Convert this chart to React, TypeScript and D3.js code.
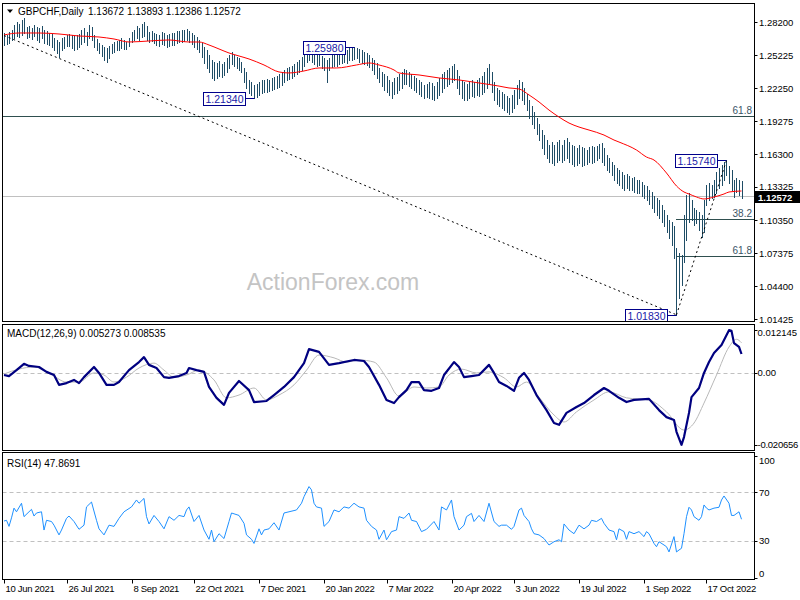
import React from 'react';
import * as d3 from 'd3';

// ---------- DATA ----------
const highs = [
  1.2721,1.2703,1.2730,1.2748, 1.2793,1.2820,1.2802,1.2838, 1.2856, 1.2775,1.2784,1.2766,
  1.2793,1.2775,1.2766,1.2784, 1.2748,1.2739,1.2721, 1.2712,1.2676,1.2658,1.2640, 1.2676,1.2685,1.2703,
  1.2712,1.2703,1.2694,1.2703,1.2712, 1.2748,1.2766,1.2730, 1.2793,1.2775, 1.2703,1.2667,1.2631,
  1.2613,1.2595,1.2586,1.2604, 1.2622,1.2640,1.2649,1.2658, 1.2676,1.2658,1.2640,1.2676,
  1.2730,1.2748,1.2784,1.2766, 1.2802,1.2820, 1.2784,1.2730,1.2739, 1.2721,1.2712,1.2703,1.2730,
  1.2721,1.2703,1.2712,1.2721, 1.2721,1.2739,1.2739,1.2748, 1.2748,1.2757,1.2739, 1.2721,1.2703,1.2685,
  1.2658,1.2631,1.2595, 1.2568,1.2523,1.2478,1.2460, 1.2451,1.2469,1.2442,1.2460, 1.2496,1.2523,
  1.2550,1.2523,1.2505, 1.2496,1.2460, 1.2406,1.2370, 1.2298,1.2280,1.2253,1.2262, 1.2280,1.2298,1.2298,
  1.2307,1.2298,1.2316,1.2325, 1.2334,1.2352,1.2370,1.2388, 1.2406,1.2415,1.2424,1.2442, 1.2460,1.2478,1.2505,
  1.2550,1.2586,1.2595,1.2577, 1.2550,1.2523,1.2541, 1.2514,1.2496,1.2478, 1.2496,1.2532,1.2550,1.2541,
  1.2568,1.2559,1.2577,1.2568, 1.2586,1.2586,1.2598,1.2586, 1.2577,1.2568,1.2550,1.2541, 1.2523,1.2496,1.2478,
  1.2451,1.2406,1.2370,1.2352, 1.2334,1.2298,1.2280,1.2316, 1.2325,1.2352,1.2370,1.2397, 1.2388,1.2370,1.2352,1.2334,
  1.2316,1.2298,1.2280,1.2253, 1.2262,1.2280,1.2271,1.2244, 1.2280,1.2316,1.2352,1.2370, 1.2388,1.2406,1.2424,1.2442,
  1.2388,1.2334,1.2298,1.2280, 1.2262,1.2280,1.2298,1.2280, 1.2298,1.2316,1.2334,1.2370, 1.2406,1.2442,
  1.2370,1.2280,1.2226,1.2208, 1.2190,1.2172,1.2154,1.2136, 1.2163,1.2208,1.2253, 1.2298,1.2280,
  1.2226,1.2172,1.2118,1.2064, 1.2010,1.1956,1.1902,1.1848, 1.1803,1.1758,1.1713,1.1740, 1.1713,1.1740,1.1758,1.1713,
  1.1758,1.1776,1.1740,1.1713, 1.1704,1.1686,1.1713,1.1695, 1.1686,1.1668,1.1695,1.1704, 1.1695,1.1704,1.1722,1.1731,
  1.1686,1.1623,1.1596, 1.1560,1.1533,1.1506,1.1488, 1.1470,1.1443,1.1452,1.1434, 1.1416,1.1425,1.1398,1.1398,
  1.1380,1.1353,1.1344,1.1308, 1.1290,1.1254,1.1236,1.1218, 1.1173,1.1128,1.1083,1.1038, 1.1020,1.0984,
  1.0786,1.0741,1.0723, 1.1083,1.1263,1.1281,1.1218,1.1146,1.1128,1.1110,1.1083,1.1218,
  1.1353,1.1371,1.1353,1.1398,1.1470,1.1506,1.1533,1.1560,1.1574, 1.1524,1.1488,1.1398,1.1416,1.1398,1.13893,
];
const lows = [
  1.2613,1.2622,1.2631,1.2658, 1.2676,1.2694,1.2685,1.2703, 1.2721, 1.2676,1.2685,1.2667,
  1.2694,1.2658,1.2640,1.2676, 1.2631,1.2622,1.2613, 1.2595,1.2568,1.2541,1.2505, 1.2568,1.2586,1.2604,
  1.2604,1.2586,1.2568,1.2577,1.2595, 1.2622,1.2640,1.2613, 1.2676,1.2658, 1.2595,1.2568,1.2541,
  1.2514,1.2478,1.2460,1.2496, 1.2541,1.2550,1.2568,1.2568, 1.2586,1.2577,1.2577,1.2604,
  1.2640,1.2658,1.2676,1.2658, 1.2685,1.2694, 1.2658,1.2640,1.2649, 1.2631,1.2613,1.2604,1.2622,
  1.2613,1.2595,1.2604,1.2613, 1.2613,1.2631,1.2640,1.2640, 1.2649,1.2658,1.2640, 1.2622,1.2595,1.2577,
  1.2550,1.2505,1.2451, 1.2406,1.2370,1.2316,1.2298, 1.2316,1.2334,1.2325,1.2343, 1.2370,1.2406,
  1.2442,1.2424,1.2406, 1.2388,1.2370, 1.2280,1.2226, 1.2181,1.2163,1.2134,1.2145, 1.2163,1.2181,1.2190,
  1.2190,1.2199,1.2208,1.2217, 1.2226,1.2235,1.2253,1.2280, 1.2298,1.2307,1.2316,1.2334, 1.2352,1.2370,1.2388,
  1.2424,1.2460,1.2478,1.2460, 1.2442,1.2424,1.2433, 1.2406,1.2388,1.2280, 1.2388,1.2415,1.2424,1.2424,
  1.2442,1.2451,1.2460,1.2451, 1.2478,1.2478,1.2487,1.2496, 1.2460,1.2451,1.2442,1.2433, 1.2415,1.2388,1.2352,
  1.2316,1.2280,1.2244,1.2208, 1.2190,1.2163,1.2136,1.2172, 1.2181,1.2208,1.2226,1.2262, 1.2262,1.2244,1.2226,1.2208,
  1.2190,1.2172,1.2154,1.2136, 1.2145,1.2136,1.2127,1.2118, 1.2136,1.2163,1.2190,1.2226, 1.2244,1.2262,1.2280,1.2298,
  1.2226,1.2172,1.2136,1.2118, 1.2118,1.2136,1.2154,1.2145, 1.2163,1.2154,1.2172,1.2190, 1.2226,1.2262,
  1.2190,1.2118,1.2082,1.2064, 1.2046,1.2028,1.2010,1.1992, 1.2010,1.2046,1.2082, 1.2136,1.2118,
  1.2082,1.2028,1.1956,1.1902, 1.1866,1.1812,1.1758,1.1686, 1.1632,1.1596,1.1560,1.1551, 1.1533,1.1560,1.1578,1.1560,
  1.1578,1.1596,1.1560,1.1542, 1.1524,1.1533,1.1551,1.1524, 1.1533,1.1542,1.1560,1.1551, 1.1560,1.1578,1.1596,1.1560,
  1.1533,1.1488,1.1470, 1.1443,1.1398,1.1371,1.1353, 1.1326,1.1308,1.1326,1.1308, 1.1308,1.1290,1.1281,1.1281,
  1.1254,1.1236,1.1218,1.1182, 1.1146,1.1110,1.1083,1.1056, 1.1020,1.0984,1.0930,1.0876, 1.0813,1.0696,
  1.0183,1.0336,1.0453, 1.0660,1.0858,1.1020,1.1038,1.0993,1.1011,1.0948,1.0885,1.0930,
  1.1173,1.1218,1.1236,1.1245,1.1281,1.1326,1.1353,1.1398,1.1443, 1.1371,1.1308,1.1245,1.1290,1.1263,1.12386,
];

const maIdx = [0,6,14,22,30,38,44,50,58,66,74,78,82,86,90,94,98,104,110,114,120,126,133,141,146,150,156,158,166,174,182,190,198,202,206,210,214,218,222,226,230,234,240,244,246,253,257,260,265,269,272,274,277,280,284,288,290,295];
const maVal = [1.2703,1.2721,1.2721,1.2712,1.2694,1.2685,1.2667,1.2640,1.2649,1.2658,1.2640,1.2640,1.2613,1.2577,1.2541,1.2514,1.2487,1.2433,1.2370,1.2361,1.2379,1.2406,1.2406,1.2433,1.2451,1.2433,1.2388,1.2361,1.2343,1.2316,1.2298,1.2271,1.2243,1.2226,1.2217,1.2163,1.2100,1.2027,1.1964,1.1910,1.1874,1.1847,1.1802,1.1757,1.1739,1.1667,1.1604,1.1577,1.1460,1.1343,1.1289,1.1271,1.1244,1.1226,1.1244,1.1271,1.1289,1.1298];

const macdIdx = [0,2,5,8,10,14,17,20,22,25,28,30,32,36,38,41,44,46,50,54,56,58,61,64,66,70,73,74,77,80,82,85,88,90,94,98,100,105,108,112,116,120,122,126,130,134,140,144,146,150,153,156,158,161,163,166,168,171,174,176,180,182,184,187,190,194,196,198,201,204,206,208,210,213,217,220,222,225,229,232,236,240,242,246,249,252,258,262,265,268,269,271,272,274,275,278,280,282,284,287,290,291,292,294,295];
const macdVal = [-0.0007,-0.0010,0.0007,0.0025,0.0019,0.0016,0.0002,-0.0007,-0.0035,-0.0030,-0.0021,-0.0030,-0.0013,0.0016,-0.0001,-0.0035,-0.0035,-0.0027,0.0007,0.0030,0.0044,0.0022,0.0013,-0.0013,-0.0015,-0.0010,-0.0001,0.0013,0.0007,0.0002,-0.0041,-0.0072,-0.0092,-0.0058,-0.0024,-0.0050,-0.0084,-0.0081,-0.0064,-0.0041,-0.0013,0.0027,0.0067,0.0059,0.0022,0.0027,0.0036,0.0033,0.0016,-0.0035,-0.0078,-0.0087,-0.0070,-0.0050,-0.0027,-0.0027,-0.0050,-0.0052,-0.0044,-0.0007,0.0030,0.0016,-0.0013,-0.0010,-0.0007,0.0022,-0.0001,-0.0027,-0.0038,-0.0052,-0.0015,-0.0001,-0.0021,-0.0064,-0.0107,-0.0144,-0.0149,-0.0115,-0.0098,-0.0087,-0.0064,-0.0044,-0.0052,-0.0072,-0.0084,-0.0078,-0.0075,-0.0107,-0.0127,-0.0135,-0.0169,-0.0206,-0.0184,-0.0115,-0.0070,-0.0044,-0.0001,0.0030,0.0056,0.0079,0.0121,0.0119,0.0084,0.0073,0.0053];

const sigIdx = [0,6,12,18,25,30,36,40,44,49,54,60,64,68,73,78,84,89,94,100,105,110,116,121,126,132,137,142,148,153,158,164,169,174,178,183,189,194,200,205,209,214,220,224,229,236,242,249,258,265,272,276,280,285,290,293,295];
const sigVal = [-0.0004,0.0010,0.0016,-0.0001,-0.0027,-0.0027,-0.0001,-0.0007,-0.0027,-0.0013,0.0013,0.0027,0.0007,-0.0013,-0.0007,0.0007,-0.0021,-0.0072,-0.0064,-0.0044,-0.0078,-0.0064,-0.0035,0.0007,0.0050,0.0042,0.0030,0.0036,0.0030,-0.0015,-0.0067,-0.0041,-0.0044,-0.0041,-0.0007,0.0010,-0.0001,0.0002,-0.0015,-0.0041,-0.0027,-0.0070,-0.0121,-0.0141,-0.0112,-0.0078,-0.0055,-0.0072,-0.0078,-0.0112,-0.0164,-0.0144,-0.0087,-0.0007,0.0073,0.0095,0.0085];

const rsiIdx = [0,1,2,3,4,5,7,8,10,11,12,13,15,16,17,19,20,22,23,25,26,28,30,32,33,35,37,38,40,42,44,46,48,51,53,54,56,57,58,60,62,64,66,68,70,72,73,74,76,78,80,82,83,84,86,88,90,91,94,96,97,99,100,102,103,104,106,108,110,112,114,117,119,120,122,123,124,125,127,128,130,132,134,136,138,140,142,144,145,147,149,150,152,153,155,157,158,160,162,163,165,167,169,172,174,175,177,179,180,182,184,185,187,188,190,192,194,196,198,199,201,203,204,206,207,208,210,211,212,214,216,218,220,222,223,224,226,228,230,232,234,235,237,239,240,242,244,245,246,248,249,250,252,254,256,257,258,260,261,262,264,265,266,268,269,270,271,272,273,274,275,276,278,279,280,281,282,284,286,287,288,290,291,292,294,295];
const rsiVal = [46.4,47,42,49,57,54,61,50,54,56,50.5,53,54,39,47,46,43,35,39,48.6,50.5,46,39.6,43,58,62,47,40,35,43,42,48.6,54,58,63.7,61,65,50,44,51,46,40,50,47,51,50,55.5,58,46,51,39,31.4,39,29.4,36,32,46,53,51,44.5,35,31.4,28,40,35,39,40,45,39,53,54,55.5,61,66.4,74.7,72,61,58,57,42,46,55.5,54,58,57,61,58,57,47,42,39,31.4,39,31,37.7,39,50,48.6,53,47,46,37.7,39.6,46,39,58,55.5,63.7,50,39,43,50,52.7,46,51,46,61,46,42,43,43,39.6,42,55.5,57,51,46,40,36,35,32,26.7,29.4,31,29.4,44,39,36,43,40,43,47,46,48.6,44.5,39,37.7,31,40,37.7,31.4,37.7,36,37.7,33.6,37.7,36,28,25.3,29.4,26.7,25.3,21,33.6,21,22.6,24,36,50,57.7,55.5,50,47,50,59.6,57,55.5,57,57.7,63.7,67,61,51,51,54,47.87];

const priceTicks = [1.282, 1.25225, 1.2225, 1.19275, 1.163, 1.13325, 1.1035, 1.07375, 1.044, 1.01425];
const dateIdx = [0, 25, 51, 76, 102, 128, 153, 179, 204, 230, 256, 281];
const dateLabels = ['10 Jun 2021','26 Jul 2021','8 Sep 2021','22 Oct 2021','7 Dec 2021','20 Jan 2022','7 Mar 2022','20 Apr 2022','3 Jun 2022','19 Jul 2022','1 Sep 2022','17 Oct 2022'];

const swingIdx = [100, 140, 269, 289];
const swingVal = [1.2134, 1.2598, 1.0183, 1.1574];

const trend1Idx = [0, 269];
const trend1Val = [1.2698, 1.0183];
const trend2Idx = [269, 289];
const trend2Val = [1.0183, 1.1574];

const fibWideVal = 1.1974;
const fibNames = ['38.2', '61.8'];
const fibVals = [1.1043, 1.0714];
const fibStartIdx = 269;

const lastClose = 1.12572;
const header = ['1.13672', '1.13893', '1.12386', '1.12572'];
const macdHeader = 'MACD(12,26,9) 0.005273 0.008535';
const rsiHeader = 'RSI(14) 47.8691';
const macdAxis = [0.012145, 0, -0.020656];
const macdAxisText = ['0.012145', '0.00', '-0.020656'];
const rsiTicks = [100, 70, 30, 0];

// ---------- LAYOUT ----------
const L = 2.5, R = 754.5;
const FONT = '"Liberation Sans", Arial, sans-serif';
const BAR = '#1f4d66';
const AX = 9.5;

export default function App() {
  const N = highs.length;
  const x = d3.scaleLinear().domain([0, N - 1]).range([4, 741.5]);
  const yP = d3.scaleLinear().domain([1.01425, 1.282]).range([319.3, 22]);
  const yM = d3.scaleLinear().domain([-0.020656, 0.012145]).range([445, 330]);
  const yR = d3.scaleLinear().domain([0, 100]).range([577.5, 455.8]);
  const fmt = d3.format('.5f');

  let barPath = '';
  for (let i = 0; i < N; i++) {
    const bx = Math.round(x(i)) + 0.5;
    barPath += `M${bx},${Math.round(yP(highs[i]))}V${Math.round(yP(lows[i])) + 1}`;
  }

  const pairs = (a: number[], b: number[]) => a.map((v, k) => [v, b[k]] as [number, number]);
  const maLine = d3.line<[number, number]>().x(d => x(d[0])).y(d => yP(d[1])).curve(d3.curveMonotoneX)(pairs(maIdx, maVal)) || '';
  const macdLine = d3.line<[number, number]>().x(d => x(d[0])).y(d => yM(d[1]))(pairs(macdIdx, macdVal)) || '';
  const sigLine = d3.line<[number, number]>().x(d => x(d[0])).y(d => yM(d[1])).curve(d3.curveMonotoneX)(pairs(sigIdx, sigVal)) || '';
  const rsiLine = d3.line<[number, number]>().x(d => x(d[0])).y(d => yR(d[1]))(pairs(rsiIdx, rsiVal)) || '';
  const tl = d3.line<[number, number]>().x(d => x(d[0])).y(d => yP(d[1]));

  const labelBoxes = swingIdx.map((si, k) => {
    const bx = Math.round(x(si)) + 0.5;
    const yy = yP(swingVal[k]);
    const right = bx - 9;
    return (
      <g key={k}>
        <line x1={right} x2={bx} y1={Math.round(yy) + 0.5} y2={Math.round(yy) + 0.5} stroke="#00008b" strokeWidth={1} />
        <rect x={right - 42} y={Math.round(yy) - 6 + 0.5} width={42} height={13} fill="#fff" stroke="#00008b" strokeWidth={1} />
        <text x={right - 21} y={Math.round(yy) + 4.5} textAnchor="middle" fontSize={10.5} fill="#1a1aa8" fontFamily={FONT}>{fmt(swingVal[k])}</text>
      </g>
    );
  });

  const yLast = yP(lastClose);

  return (
    <svg width={800} height={600} style={{ position: 'fixed', left: 0, top: 0, background: '#fff' }} fontFamily={FONT}>
      <rect x={0} y={0} width={800} height={600} fill="#fff" />
      <defs>
        <clipPath id="cMain"><rect x={L} y={3.5} width={R - L} height={318} /></clipPath>
        <clipPath id="cMacd"><rect x={L} y={324.5} width={R - L} height={126} /></clipPath>
        <clipPath id="cRsi"><rect x={L} y={452.5} width={R - L} height={127} /></clipPath>
      </defs>

      {/* watermark */}
      <text x={333} y={290} textAnchor="middle" fontSize={23} fill="#c4c4c4">ActionForex.com</text>

      {/* MAIN PANEL */}
      <g clipPath="url(#cMain)">
        <line x1={L} x2={R} y1={Math.round(yLast) + 0.5} y2={Math.round(yLast) + 0.5} stroke="#c0c0c0" />
        <line x1={L} x2={R} y1={Math.round(yP(fibWideVal)) + 0.5} y2={Math.round(yP(fibWideVal)) + 0.5} stroke="#2f4f4f" />
        {fibVals.map((v, k) => (
          <line key={k} x1={Math.round(x(fibStartIdx))} x2={R} y1={Math.round(yP(v)) + 0.5} y2={Math.round(yP(v)) + 0.5} stroke="#2f4f4f" />
        ))}
        <path d={barPath} stroke={BAR} strokeWidth={1} fill="none" shapeRendering="crispEdges" />
        <path d={maLine} stroke="#ff0000" strokeWidth={1} fill="none" />
        <path d={tl(pairs(trend1Idx, trend1Val)) || ''} stroke="#000" strokeWidth={1} strokeDasharray="2,3" fill="none" />
        <path d={tl(pairs(trend2Idx, trend2Val)) || ''} stroke="#000" strokeWidth={1} strokeDasharray="2,3" fill="none" />
        {labelBoxes}
      </g>
      <text x={752} y={Math.round(yP(fibWideVal)) - 2} textAnchor="end" fontSize={10} fill="#3a5566">61.8</text>
      {fibVals.map((v, k) => (
        <text key={k} x={752} y={Math.round(yP(v)) - 2} textAnchor="end" fontSize={10} fill="#3a5566">{fibNames[k]}</text>
      ))}
      <polygon points="7,9.5 13,9.5 10,13" fill="#000" />
      <text x={18} y={15} fontSize={10} fill="#000">GBPCHF,Daily</text>
      <text x={88} y={15} fontSize={10} fill="#000">{header.join(' ')}</text>

      {/* MACD PANEL */}
      <g clipPath="url(#cMacd)">
        <line x1={L} x2={R} y1={Math.round(yM(0)) + 0.5} y2={Math.round(yM(0)) + 0.5} stroke="#c0c0c0" strokeDasharray="4,3" />
        <path d={sigLine} stroke="#b8b8b8" strokeWidth={1} fill="none" />
        <path d={macdLine} stroke="#000080" strokeWidth={2.2} fill="none" strokeLinejoin="round" />
      </g>
      <text x={7} y={337} fontSize={10} fill="#000">{macdHeader}</text>

      {/* RSI PANEL */}
      <g clipPath="url(#cRsi)">
        {[70, 30].map(v => (
          <line key={v} x1={L} x2={R} y1={Math.round(yR(v)) + 0.5} y2={Math.round(yR(v)) + 0.5} stroke="#c0c0c0" strokeDasharray="4,3" />
        ))}
        <path d={rsiLine} stroke="#1e90ff" strokeWidth={1} fill="none" />
      </g>
      <text x={7} y={467} fontSize={10} fill="#000">{rsiHeader}</text>

      {/* panel borders */}
      <rect x={L} y={3.5} width={R - L} height={318} fill="none" stroke="#000" />
      <rect x={L} y={324.5} width={R - L} height={126} fill="none" stroke="#000" />
      <rect x={L} y={452.5} width={R - L} height={127} fill="none" stroke="#000" />

      {/* right axes */}
      {priceTicks.map((v, k) => (
        <g key={k}>
          <line x1={R} x2={R + 3} y1={Math.round(yP(v)) + 0.5} y2={Math.round(yP(v)) + 0.5} stroke="#000" />
          <text x={759} y={yP(v) + (k === 5 ? 2.5 : 3.5)} fontSize={AX} fill="#000">{fmt(v)}</text>
        </g>
      ))}
      <rect x={755} y={Math.round(yLast) - 5} width={45} height={12} fill="#000" />
      <text x={758} y={Math.round(yLast) + 4.5} fontSize={AX} fontWeight="bold" fill="#fff">{fmt(lastClose)}</text>

      {macdAxis.map((v, k) => (
        <g key={k}>
          <line x1={R} x2={R + 3} y1={Math.round(yM(v)) + 0.5} y2={Math.round(yM(v)) + 0.5} stroke="#000" />
          <text x={757.5} y={Math.min(Math.max(yM(v), 332), 444) + 3.5} fontSize={AX} letterSpacing={k === 2 ? -0.25 : 0} fill="#000">{macdAxisText[k]}</text>
        </g>
      ))}
      {rsiTicks.map((v, k) => (
        <g key={k}>
          <line x1={R} x2={R + 3} y1={Math.round(yR(v)) + 0.5} y2={Math.round(yR(v)) + 0.5} stroke="#000" />
          <text x={759} y={Math.min(Math.max(yR(v), 460), 573) + 3.5} fontSize={AX} fill="#000">{v}</text>
        </g>
      ))}

      {/* date axis */}
      {dateIdx.map((di, k) => {
        const tx = Math.round(x(di)) + 0.5;
        return (
          <g key={k}>
            <line x1={tx} x2={tx} y1={579.5} y2={583.5} stroke="#000" />
            <text x={tx + 1} y={592} fontSize={AX} letterSpacing={-0.3} fill="#000">{dateLabels[k]}</text>
          </g>
        );
      })}
    </svg>
  );
}
